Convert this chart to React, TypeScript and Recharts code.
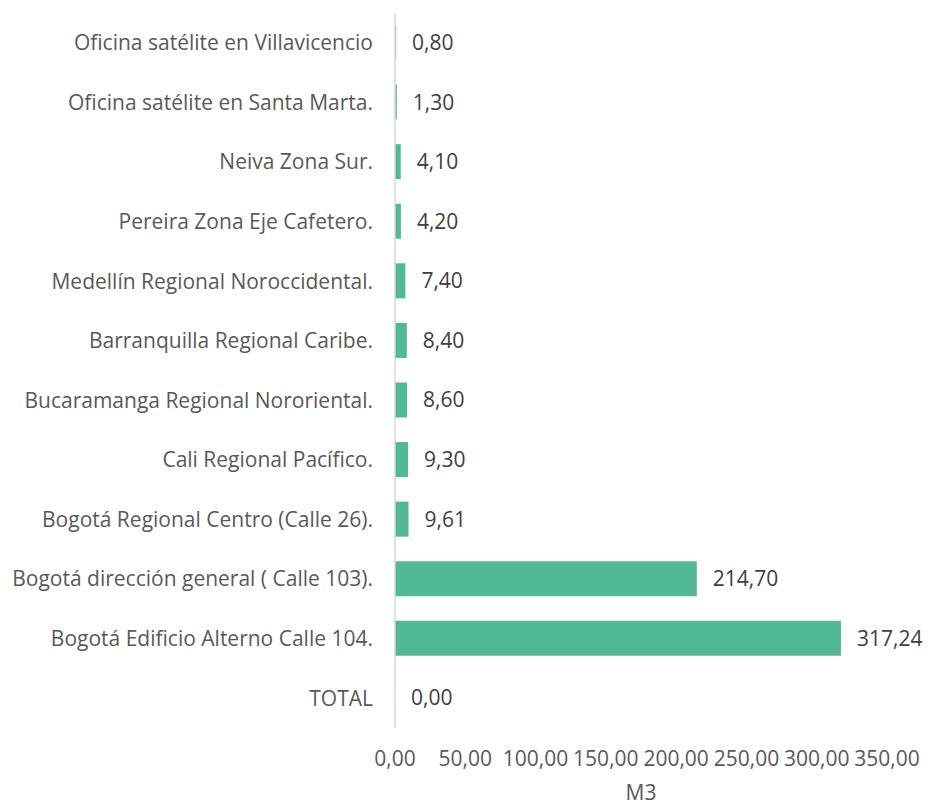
import { Bar, BarChart, LabelList, XAxis, YAxis } from "recharts";

const sedes = [
  "Oficina satélite en Villavicencio",
  "Oficina satélite en Santa Marta.",
  "Neiva Zona Sur.",
  "Pereira Zona Eje Cafetero.",
  "Medellín Regional Noroccidental.",
  "Barranquilla Regional Caribe.",
  "Bucaramanga Regional Nororiental.",
  "Cali Regional Pacífico.",
  "Bogotá Regional Centro (Calle 26).",
  "Bogotá dirección general ( Calle 103).",
  "Bogotá Edificio Alterno Calle 104.",
  "TOTAL",
];

const m3 = [0.8, 1.3, 4.1, 4.2, 7.4, 8.4, 8.6, 9.3, 9.61, 214.7, 317.24, 0];

const xTicks = [0, 50, 100, 150, 200, 250, 300, 350];

const fmt = (v: number) => v.toFixed(2).replace(".", ",");

const chartData = sedes.map((name, i) => ({ name, m3: m3[i] }));

const FONT = "'Open Sans', sans-serif";
const GRAY = "#595959";

export default function App() {
  return (
    <div style={{ position: "absolute", left: 0, top: 0, background: "#fff", fontFamily: FONT }}>
      <BarChart
        width={928}
        height={808}
        data={chartData}
        layout="vertical"
        margin={{ top: 13, right: 41, bottom: 0, left: 0 }}
      >
        <XAxis
          type="number"
          domain={[0, 350]}
          ticks={xTicks}
          tickFormatter={fmt}
          axisLine={false}
          tickLine={false}
          tickSize={0}
          tickMargin={23}
          height={80}
          interval={0}
          tick={{ fontSize: 21, fill: GRAY, fontFamily: FONT }}
          label={{ value: "M3", position: "insideBottom", offset: 8, fontSize: 21, fill: GRAY, fontFamily: FONT }}
        />
        <YAxis
          type="category"
          dataKey="name"
          width={395}
          axisLine={{ stroke: "#d9d9d9", strokeWidth: 1.5 }}
          tickLine={false}
          tickSize={0}
          tickMargin={22}
          interval={0}
          tick={{ fontSize: 21, fill: GRAY, fontFamily: FONT }}
        />
        <Bar
          dataKey="m3"
          fill="#52b996"
          barSize={35}
          minPointSize={(v: any) => (Number(v) === 0 ? 0.01 : 0)}
          isAnimationActive={false}
        >
          <LabelList
            dataKey="m3"
            position="right"
            offset={16}
            formatter={(v: any) => fmt(Number(v))}
            style={{ fontSize: 21, fill: "#404040", fontFamily: FONT }}
          />
        </Bar>
      </BarChart>
    </div>
  );
}
